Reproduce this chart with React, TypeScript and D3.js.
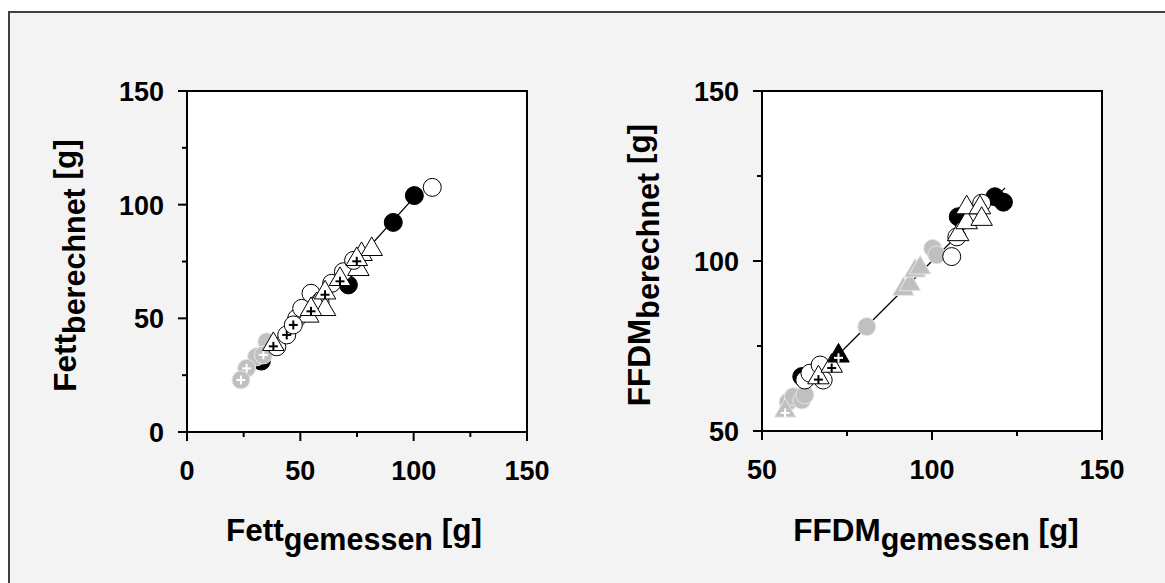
import React from "react";
import * as d3 from "d3";

// ---------- Data ----------
// Left panel: Fett gemessen vs. berechnet [g]
const fettBlackCircle: [number, number][] = [[32.8, 31.2], [71.2, 64.7], [91, 92.2], [100.3, 104]];
const fettOpenCircle: [number, number][] = [[39.6, 37.5], [48.4, 50], [50.6, 54.4], [54.7, 61], [58.7, 57.3], [63.8, 65.4], [69, 70.5], [108.2, 107.6]];
const fettOpenTriangle: [number, number][] = [[53.5, 51.5], [57.2, 56.6], [60.9, 54.4], [75.6, 72], [77, 78.6], [81.5, 80.8]];
const fettTrianglePlus: [number, number][] = [[38.1, 39], [54.7, 54.4], [60.9, 61.7], [67.5, 67.6], [74.9, 76.4]];
const fettCirclePlus: [number, number][] = [[44, 42.7], [46.9, 47.1], [73.5, 75.5]];
const fettGrayCircle: [number, number][] = [[30.7, 33.1], [35.2, 39.7]];
const fettGrayCirclePlus: [number, number][] = [[33.7, 33.9], [26.3, 28], [23.8, 22.9]];
const fettLine: [number, number][] = [[33, 29.3], [101, 104.1]];

// Right panel: FFDM gemessen vs. berechnet [g]
const ffdmBlackCircle: [number, number][] = [[61.7, 66], [107.7, 113], [118.5, 118.9], [121, 117.3]];
const ffdmOpenCircle: [number, number][] = [[62.6, 65], [64.1, 67], [67.1, 69.4], [68, 65], [105.8, 101.3], [107.3, 107.1], [112, 113], [114.6, 117]];
const ffdmOpenTriangle: [number, number][] = [[107.7, 108.1], [110.2, 111.6], [110.2, 116], [114.1, 116], [114.6, 112.6]];
const ffdmTrianglePlus: [number, number][] = [[66.6, 66], [70.5, 69.4]];
const ffdmBlackTrianglePlus: [number, number][] = [[72.5, 72.4]];
const ffdmGrayCircle: [number, number][] = [[57.7, 58.6], [59.2, 60.1], [61.7, 59.1], [62.6, 60.6], [80.8, 80.7], [100.2, 103.7], [101.4, 101.8]];
const ffdmGrayTriangle: [number, number][] = [[91.6, 92], [93.5, 93.4], [95, 97.4], [96.5, 98.3]];
const ffdmGrayTrianglePlus: [number, number][] = [[56.8, 56.2]];
const ffdmLine: [number, number][] = [[57, 57], [121.5, 121.5]];

const fettMajorTicks = [0, 50, 100, 150];
const fettMinorTicks = [25, 75, 125];
const ffdmMajorTicks = [50, 100, 150];
const ffdmMinorTicks = [75, 125];

const GRAY = "#c0c0c0";
const FONT = "'Liberation Sans', Arial, Helvetica, sans-serif";

type Kind = "circle" | "triangle";
interface SeriesDef {
  pts: [number, number][];
  kind: Kind;
  fill: string;
  stroke: string;
  plus?: string;
}

const circlePath = d3.symbol().type(d3.symbolCircle).size(Math.PI * 9 * 9)() as string;
const triPath = d3.symbol().type(d3.symbolTriangle).size(200)() as string;

function Panel(props: {
  x0: number; x1: number; y0: number; y1: number;
  domain: [number, number];
  major: number[]; minor: number[];
  series: SeriesDef[];
  line: [number, number][];
  xMain: string; xSub: string; yMain: string; ySub: string;
  yTitleX: number; xTitleX: number;
}) {
  const { x0, x1, y0, y1, domain, major, minor, series, line } = props;
  const xs = d3.scaleLinear().domain(domain).range([x0, x1]);
  const ys = d3.scaleLinear().domain(domain).range([y1, y0]);
  const lineGen = d3.line<[number, number]>().x((d) => xs(d[0])).y((d) => ys(d[1]));
  const cy = (y0 + y1) / 2;
  return (
    <g>
      <rect x={x0} y={y0} width={x1 - x0} height={y1 - y0} fill="#fff" stroke="#000" strokeWidth={2} />
      <path d={lineGen(line) as string} stroke="#000" strokeWidth={1.3} fill="none" />
      {series.map((s, i) => (
        <g key={i}>
          {s.pts.map((p, j) => (
            <g key={j} transform={`translate(${xs(p[0])},${ys(p[1]) + (s.kind === "triangle" ? 1 : 0)})`}>
              <path d={s.kind === "circle" ? circlePath : triPath} fill={s.fill} stroke={s.stroke} strokeWidth={1} />
              {s.plus && (
                <g stroke={s.plus} strokeWidth={2}>
                  <line x1={-4.5} x2={4.5} y1={s.kind === "triangle" ? 2 : 0} y2={s.kind === "triangle" ? 2 : 0} />
                  <line x1={0} x2={0} y1={s.kind === "triangle" ? -2.5 : -4.5} y2={s.kind === "triangle" ? 6.5 : 4.5} />
                </g>
              )}
            </g>
          ))}
        </g>
      ))}
      {/* x ticks */}
      {major.map((t) => (
        <g key={"xm" + t}>
          <line x1={xs(t)} x2={xs(t)} y1={y1} y2={y1 + 9} stroke="#000" strokeWidth={2} />
          <text x={xs(t)} y={y1 + 48} textAnchor="middle" fontFamily={FONT} fontWeight="bold" fontSize={27}>{t}</text>
        </g>
      ))}
      {minor.map((t) => (
        <line key={"xn" + t} x1={xs(t)} x2={xs(t)} y1={y1} y2={y1 + 5} stroke="#000" strokeWidth={2} />
      ))}
      {/* y ticks */}
      {major.map((t) => (
        <g key={"ym" + t}>
          <line x1={x0 - 9} x2={x0} y1={ys(t)} y2={ys(t)} stroke="#000" strokeWidth={2} />
          <text x={x0 - 23} y={ys(t) + 10} textAnchor="end" fontFamily={FONT} fontWeight="bold" fontSize={27}>{t}</text>
        </g>
      ))}
      {minor.map((t) => (
        <line key={"yn" + t} x1={x0 - 5} x2={x0} y1={ys(t)} y2={ys(t)} stroke="#000" strokeWidth={2} />
      ))}
      {/* titles */}
      <text x={props.xTitleX} y={541} textAnchor="middle" fontFamily={FONT} fontWeight="bold" fontSize={31.5}>
        {props.xMain}
        <tspan dy={9} fontSize={30.5}>{props.xSub}</tspan>
        <tspan dy={-9}> [g]</tspan>
      </text>
      <text transform={`translate(${props.yTitleX},${cy + 4}) rotate(-90)`} textAnchor="middle" fontFamily={FONT} fontWeight="bold" fontSize={31.5}>
        {props.yMain}
        <tspan dy={9} fontSize={30.5}>{props.ySub}</tspan>
        <tspan dy={-9}> [g]</tspan>
      </text>
    </g>
  );
}

export default function App() {
  const fettSeries: SeriesDef[] = [
    { pts: fettBlackCircle, kind: "circle", fill: "#000", stroke: "#000" },
    { pts: fettGrayCircle, kind: "circle", fill: GRAY, stroke: "#e6e6e6" },
    { pts: fettGrayCirclePlus, kind: "circle", fill: GRAY, stroke: "#e6e6e6", plus: "#fff" },
    { pts: fettOpenCircle, kind: "circle", fill: "#fff", stroke: "#000" },
    { pts: fettOpenTriangle, kind: "triangle", fill: "#fff", stroke: "#000" },
    { pts: fettCirclePlus, kind: "circle", fill: "#fff", stroke: "#000", plus: "#000" },
    { pts: fettTrianglePlus, kind: "triangle", fill: "#fff", stroke: "#000", plus: "#000" },
  ];
  const ffdmSeries: SeriesDef[] = [
    { pts: ffdmBlackCircle, kind: "circle", fill: "#000", stroke: "#000" },
    { pts: ffdmGrayCircle, kind: "circle", fill: GRAY, stroke: "#e6e6e6" },
    { pts: ffdmGrayTriangle, kind: "triangle", fill: GRAY, stroke: "#e6e6e6" },
    { pts: ffdmGrayTrianglePlus, kind: "triangle", fill: GRAY, stroke: "#e6e6e6", plus: "#fff" },
    { pts: ffdmOpenCircle, kind: "circle", fill: "#fff", stroke: "#000" },
    { pts: ffdmOpenTriangle, kind: "triangle", fill: "#fff", stroke: "#000" },
    { pts: ffdmTrianglePlus, kind: "triangle", fill: "#fff", stroke: "#000", plus: "#000" },
    { pts: ffdmBlackTrianglePlus, kind: "triangle", fill: "#000", stroke: "#000", plus: "#fff" },
  ];
  return (
    <div style={{ position: "absolute", left: 0, top: 0 }}>
      <svg width={1165} height={583} style={{ display: "block" }}>
        <rect x={0} y={0} width={1165} height={583} fill="#fff" />
        <rect x={9} y={12} width={1170} height={590} fill="#f3f3f3" stroke="#404040" strokeWidth={2} />
        <Panel x0={187} x1={527} y0={91} y1={432} domain={[0, 150]} major={fettMajorTicks} minor={fettMinorTicks}
          series={fettSeries} line={fettLine} xMain="Fett" xSub="gemessen" yMain="Fett" ySub="berechnet" yTitleX={76} xTitleX={354} />
        <Panel x0={762} x1={1102} y0={91} y1={431} domain={[50, 150]} major={ffdmMajorTicks} minor={ffdmMinorTicks}
          series={ffdmSeries} line={ffdmLine} xMain="FFDM" xSub="gemessen" yMain="FFDM" ySub="berechnet" yTitleX={650} xTitleX={936} />
      </svg>
    </div>
  );
}
